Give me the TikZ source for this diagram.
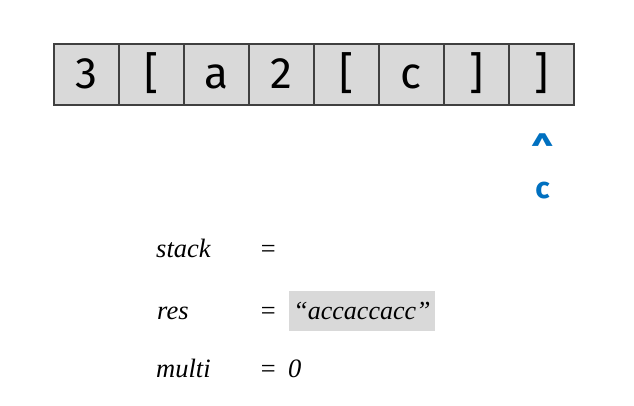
\documentclass[tikz,border=0pt]{standalone}
\usepackage{fontspec}
\setmainfont{Liberation Serif}
\newfontfamily\cellfont{Fira Sans}
\definecolor{PointerBlue}{RGB}{0,112,192}

\begin{document}
\begin{tikzpicture}
[
x=1pt, y=1pt,
Cell/.style={rectangle,draw=black!75,fill=black!15, line width=1.2pt, minimum width=65pt, minimum height=61pt, inner sep=0pt, text height=27pt, text depth=0pt, font=\cellfont\fontsize{44}{44}\selectfont},
Pointer/.style={text=PointerBlue, inner sep=0pt, font=\cellfont\bfseries\fontsize{30}{30}\selectfont},
Label/.style={anchor=base west, inner sep=0pt, font=\fontsize{26.5}{30}\selectfont\itshape},
Value/.style={rectangle,draw=none,fill=black!15, minimum width=146pt, minimum height=40pt, inner sep=0pt, font=\fontsize{26}{30}\selectfont\itshape},
]

\useasboundingbox (0,0) rectangle (634,-405);

% input string
\node[Cell] (c1) at ( 86.5,-74.5) {3};
\node[Cell] (c2) at (151.5,-74.5) {[};
\node[Cell] (c3) at (216.5,-74.5) {a};
\node[Cell] (c4) at (281.5,-74.5) {2};
\node[Cell] (c5) at (346.5,-74.5) {[};
\node[Cell] (c6) at (411.5,-74.5) {c};
\node[Cell] (c7) at (476.5,-74.5) {]};
\node[Cell] (c8) at (541.5,-74.5) {]};

% pointer
\node[Pointer,font=\cellfont\bfseries\fontsize{40}{40}\selectfont] (caret) at (542.5,-151) {\textasciicircum};
\node[Pointer,anchor=base] (ch) at (542.5,-198) {c};

% variables
\node[Label] (stack) at (156,-257) {stack};
\node[Label] (res)   at (157,-319) {res};
\node[Label] (multi) at (156,-377) {multi};

\node[Label] (eqstack) at (259,-257) {=};
\node[Label] (eqres)   at (259,-319) {=};
\node[Label] (eqmulti) at (259,-377) {=};

\node[Value] (resval) at (362,-311) {“accaccacc”};
\node[Label] (multival) at (288,-377) {0};

\end{tikzpicture}
\end{document}
